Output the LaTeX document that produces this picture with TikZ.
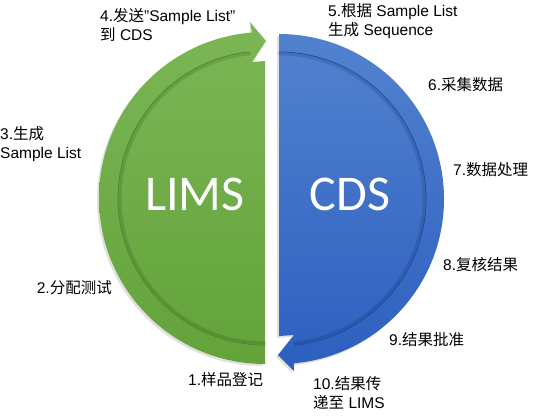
\documentclass[tikz,border=0pt]{standalone}
\usepackage{fontspec}
\setmainfont{Liberation Sans}
\newfontfamily\zhfont{Noto Sans CJK SC}
\newfontfamily\bigfont{Carlito}
\newcommand{\zh}[1]{{\zhfont #1}}
\usepackage{tikz}
\usetikzlibrary{arrows}
\definecolor{gtop}{RGB}{124,182,86}
\definecolor{gbot}{RGB}{99,163,58}
\definecolor{gline}{RGB}{78,135,45}
\definecolor{btop}{RGB}{82,130,206}
\definecolor{bbot}{RGB}{45,95,192}
\definecolor{bline}{RGB}{35,75,160}

\begin{document}
\begin{tikzpicture}[line cap=round,line join=round,x=1pt,y=-1pt,
  steptext/.style={inner sep=0pt,align=left,font=\fontsize{15.5}{19}\selectfont},
  bigtext/.style={text=white,font=\bigfont\fontsize{50}{50}\selectfont}]
\useasboundingbox (0,0) rectangle (534,415);
% LIMS half
\begin{scope}[shift={(265,198)}]
\fill [black, opacity=0.12] (-2,2) ++(90:166) arc (90:265.5:166) -- (-15,-174) -- (-1,-155) -- (-13,-134) -- (-2,-135) -- (-2,168) -- cycle;
\shade [top color=gtop, bottom color=gbot] (90:166) arc (90:265.5:166) -- (-15,-176) -- (1,-157) -- (-13,-136) -- (0,-137) -- (0,166) -- cycle;
\draw [black, opacity=0.12, line width=3pt] (90:145) arc (90:264:145);
\draw [gline, line width=0.8pt] (90:147) arc (90:264:147);
\end{scope}
% CDS half
\begin{scope}[shift={(279,199)}]
\fill [black, opacity=0.12] (-2,2) ++(270:165) arc (270:444.8:165) -- (13,174) -- (-3,158) -- (13,138) -- (-2,139) -- cycle;
\shade [top color=btop, bottom color=bbot] (270:165) arc (270:444.8:165) -- (15,172) -- (-1,156) -- (15,136) -- (0,137) -- cycle;
\draw [black, opacity=0.12, line width=3pt] (270:145) arc (270:444:145);
\draw [bline, line width=0.8pt] (270:147) arc (270:444:147);
\end{scope}
\node[bigtext] (lims) at (195,194) {LIMS};
\node[bigtext] (cds) at (350,194) {CDS};
% steps
\node[steptext, anchor=west] (s1) at (188,380) {1.\zh{样品登记}};
\node[steptext, anchor=east] (s2) at (112,288) {2.\zh{分配测试}};
\node[steptext, anchor=west] (s3) at (0,144) {3.\zh{生成}\\Sample List};
\node[steptext, anchor=west] (s4) at (100,25) {4.\zh{发送}”Sample List”\\\zh{到} CDS};
\node[steptext, anchor=west] (s5) at (328,21) {5.\zh{根据} Sample List\\\zh{生成} Sequence};
\node[steptext, anchor=west] (s6) at (428,85) {6.\zh{采集数据}};
\node[steptext, anchor=west] (s7) at (453,170) {7.\zh{数据处理}};
\node[steptext, anchor=west] (s8) at (443,265) {8.\zh{复核结果}};
\node[steptext, anchor=west] (s9) at (389,340) {9.\zh{结果批准}};
\node[steptext, anchor=west] (s10) at (313,393) {10.\zh{结果传}\\\zh{递至} LIMS};
\end{tikzpicture}
\end{document}
